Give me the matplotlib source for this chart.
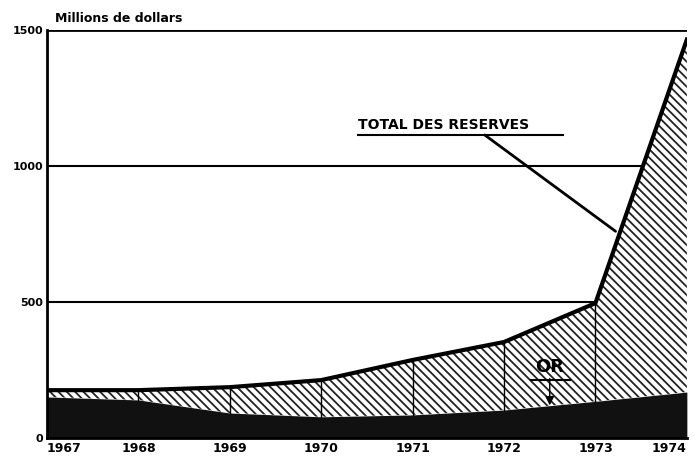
import matplotlib
matplotlib.use("Agg")
import matplotlib.pyplot as plt
import numpy as np

years = [1967, 1968, 1969, 1970, 1971, 1972, 1973, 1974]
total_reserves = [176, 176, 187, 213, 287, 353, 496, 1465]
gold = [151, 140, 92, 78, 85, 103, 135, 169]
yticks = [0, 500, 1000, 1500]

plt.rcParams['hatch.linewidth'] = 1.3
fig = plt.figure(figsize=(6.94, 4.66), dpi=100)
ax = fig.add_axes([0.0677, 0.060, 0.922, 0.8756])

ax.fill_between(years, gold, total_reserves, facecolor='white', edgecolor='#222222',
                hatch='\\\\\\\\', linewidth=0)
ax.fill_between(years, 0, gold, facecolor='#111111', edgecolor='#111111', linewidth=0)
ax.plot(years, total_reserves, color='black', lw=3, solid_joinstyle='round')
for x, g, t in zip(years[1:-1], gold[1:-1], total_reserves[1:-1]):
    ax.plot([x, x], [g, t], color='black', lw=1)

for v in [500, 1000]:
    ax.axhline(v, color='black', lw=1.5, zorder=0)
ax.axhline(1500, color='black', lw=2)

ax.set_xlim(1967, 1974)
ax.set_ylim(0, 1500)
for s in ['top', 'right']:
    ax.spines[s].set_visible(False)
ax.spines['left'].set_linewidth(2)
ax.spines['bottom'].set_linewidth(2)

ax.set_yticks(yticks)
ax.set_yticklabels([str(v) for v in yticks], fontsize=8, fontweight='bold')
ax.set_xticks(years)
ax.set_xticklabels([str(y) for y in years], fontsize=9, fontweight='bold',
                   family='Liberation Sans Narrow')
ax.tick_params(length=0, pad=3)
ax.get_xticklabels()[0].set_horizontalalignment('left')
ax.get_xticklabels()[-1].set_horizontalalignment('right')

ax.text(0.012, 1.012, "Millions de dollars", transform=ax.transAxes,
        fontsize=9, fontweight='bold', ha='left', va='bottom')

ax.annotate("TOTAL DES RESERVES", xy=(1973.22, 760), xytext=(1970.4, 1150),
            fontsize=10, fontweight='bold', ha='left', va='center',
            arrowprops=dict(arrowstyle='-', color='black', lw=2,
                            shrinkA=0, shrinkB=0,
                            relpos=(0.72, 0.0)))
ax.plot([1970.4, 1972.65], [1115, 1115], color='black', lw=1.5)

ax.annotate("OR", xy=(1972.5, 120), xytext=(1972.5, 262),
            fontsize=13, fontweight='bold', ha='center', va='center',
            arrowprops=dict(arrowstyle='-|>', color='black', lw=1,
                            shrinkA=0, shrinkB=0, relpos=(0.5, 0.0)))
ax.plot([1972.3, 1972.72], [212, 212], color='black', lw=1.5)

fig.savefig("out.png", dpi=100)
